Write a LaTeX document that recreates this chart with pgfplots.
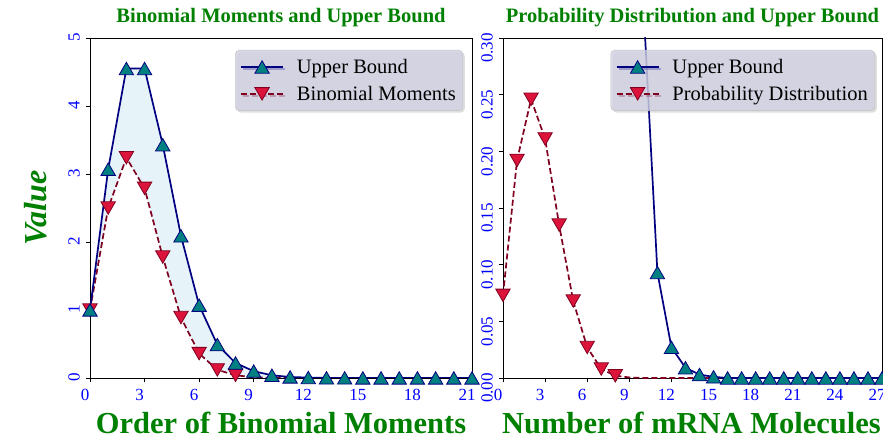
\documentclass[border=0pt]{standalone}
\usepackage{pgfplots}
\pgfplotsset{compat=1.18}
\usepgfplotslibrary{fillbetween}
\usetikzlibrary{shadows}
\usepackage{fontspec}
\setmainfont{Liberation Serif}
\definecolor{ubline}{RGB}{0,0,128}
\definecolor{ubmark}{RGB}{0,128,128}
\definecolor{bmline}{RGB}{128,0,32}
\definecolor{bmmark}{RGB}{220,20,60}
\definecolor{ttl}{RGB}{0,128,0}
\definecolor{tickc}{RGB}{0,0,255}
\definecolor{fillb}{RGB}{230,243,248}
\definecolor{legfill}{RGB}{208,208,226}

\pgfplotsset{
  myaxis/.style={
    scale only axis, height=340pt,
    axis line style={line width=0.8pt},
    tick align=outside, major tick length=4.5pt,
    xtick pos=bottom, ytick pos=left,
    tick style={black, line width=0.8pt},
    /pgf/number format/assume math mode=true,
    ticklabel style={font=\fontsize{17}{17}\selectfont, text=tickc, inner sep=0pt},
    xticklabel style={anchor=base, xshift=-5pt, yshift=-18pt},
    yticklabel style={xshift=-6pt, yshift=5pt, rotate=90, anchor=base east},
    every axis title/.style={at={(axis description cs:0.5,1)}, anchor=base, yshift=15pt,
      font=\bfseries\fontsize{20.5}{24}\selectfont, text=ttl},
    every axis x label/.style={at={(axis description cs:0.5,0)}, anchor=base, yshift=-55pt,
      font=\bfseries\fontsize{30.5}{36}\selectfont, text=ttl},
    every axis y label/.style={at={(axis description cs:-0.1126,0.5)}, rotate=90, anchor=base,
      font=\bfseries\itshape\fontsize{32}{36}\selectfont, text=ttl},
    legend cell align=left,
    legend style={at={(axis description cs:1,1)}, anchor=north east, xshift=-9pt, yshift=-12pt,
      fill=legfill, fill opacity=0.8, text opacity=1, draw=black!25, rounded corners=4pt,
      font=\fontsize{20.5}{24}\selectfont, inner xsep=5pt, inner ysep=7pt, row sep=7pt,
      column sep=11pt,
      drop shadow={shadow xshift=2pt, shadow yshift=-2pt, opacity=0.25}},
    legend image code/.code={\draw[mark repeat=2,mark phase=2,##1] plot coordinates {(0pt,0pt) (21pt,0pt) (42pt,0pt)};},
    legend image post style={fill opacity=1},
    clip=true,
  },
  ubstyle/.style={color=ubline, line width=1.7pt, mark=triangle*, mark size=8.3pt,
    mark options={solid, fill=ubmark, draw=ubline, line width=0.8pt, yshift=-2pt}},
  bmstyle/.style={color=bmline, line width=1.7pt, dash pattern=on 6pt off 3pt, mark=triangle*, mark size=8.3pt,
    mark options={solid, fill=bmmark, draw=bmline, line width=0.8pt, yshift=2pt, rotate=180}},
}

\begin{document}
\begin{tikzpicture}
\begin{axis}[myaxis, at={(90pt,61pt)}, anchor=south west, width=382pt,
  xmin=0, xmax=21, ymin=0, ymax=5,
  xtick={0,3,...,21}, ytick={0,1,2,3,4,5},
  title={Binomial Moments and Upper Bound},
  xlabel={Order of Binomial Moments}, ylabel={Value}]
\addplot[bmstyle, mark indices={1,...,9}, name path=bm, forget plot] coordinates {
(0,1.0)(1,2.5)(2,3.24)(3,2.79)(4,1.78)(5,0.89)(6,0.36)(7,0.12)(8,0.04)(9,0.01)(10,0.003)
(11,0.001)(12,0)(13,0)(14,0)(15,0)(16,0)(17,0)(18,0)(19,0)(20,0)(21,0)};
\addplot[ubstyle, name path=ub] coordinates {
(0,1.0)(1,3.07)(2,4.55)(3,4.55)(4,3.43)(5,2.09)(6,1.07)(7,0.49)(8,0.22)(9,0.10)(10,0.04)
(11,0.015)(12,0.006)(13,0.002)(14,0.001)(15,0)(16,0)(17,0)(18,0)(19,0)(20,0)(21,0)};
\addlegendentry{Upper Bound}
\addlegendimage{bmstyle}
\addlegendentry{Binomial Moments}
\addplot[fill=fillb, draw=none, forget plot] fill between[of=ub and bm];
\end{axis}

\begin{axis}[myaxis, at={(503pt,61pt)}, anchor=south west, width=379pt,
  xmin=0, xmax=27, ymin=0, ymax=0.3,
  xtick={0,3,...,27}, ytick={0,0.05,0.10,0.15,0.20,0.25,0.30},
  yticklabel style={/pgf/number format/.cd, fixed, fixed zerofill, precision=2},
  legend style={xshift=2pt},
  every axis x label/.append style={xshift=-1pt},
  title={Probability Distribution and Upper Bound},
  xlabel={Number of mRNA Molecules}]
\addplot[bmstyle, mark indices={1,...,9}, forget plot] coordinates {
(0,0.073)(1,0.192)(2,0.246)(3,0.211)(4,0.135)(5,0.068)(6,0.027)(7,0.008)(8,0.002)(9,0.0005)
(10,0)(11,0)(12,0)(13,0)(14,0)(15,0)(16,0)(17,0)(18,0)(19,0)(20,0)(21,0)(22,0)(23,0)(24,0)(25,0)(26,0)(27,0)};
\addplot[ubstyle] coordinates {
(0,1)(1,1)(2,1)(3,1)(4,1)(5,1)(6,1)(7,1)(8,1)(9,1)(10,0.33)(11,0.093)(12,0.027)(13,0.009)
(14,0.003)(15,0.001)(16,0)(17,0)(18,0)(19,0)(20,0)(21,0)(22,0)(23,0)(24,0)(25,0)(26,0)(27,0)};
\addlegendentry{Upper Bound}
\addlegendimage{bmstyle}
\addlegendentry{Probability Distribution}
\end{axis}
\pgfresetboundingbox
\useasboundingbox (0,0) rectangle (883pt,439pt);
\end{tikzpicture}
\end{document}
